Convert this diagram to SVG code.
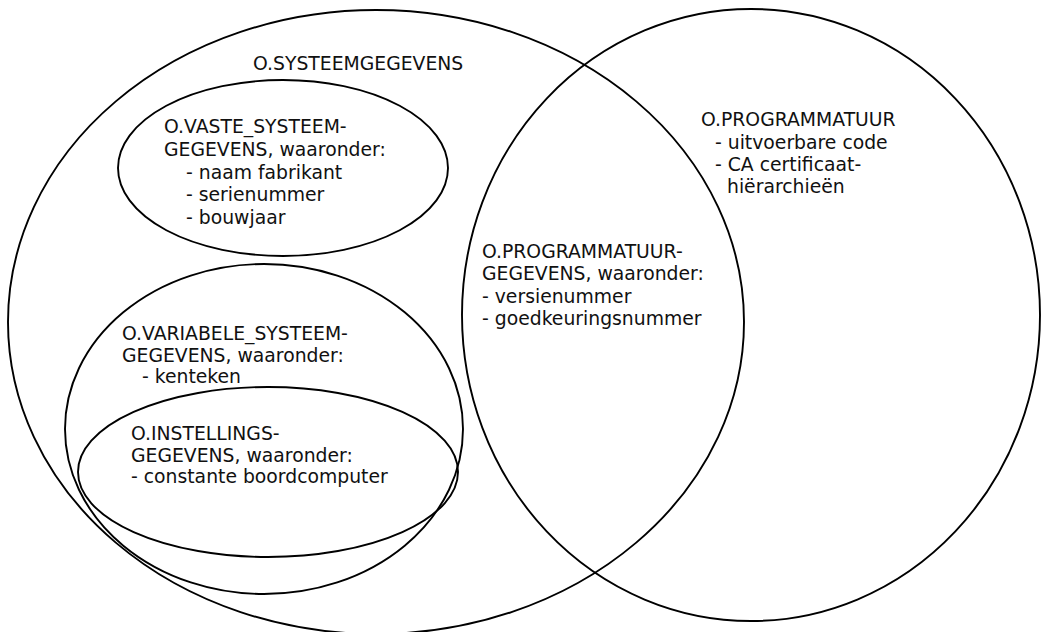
<svg xmlns="http://www.w3.org/2000/svg" width="1045" height="632" viewBox="0 0 1045 632">
  <style>
    .set { fill: none; stroke: #000; stroke-width: 1.9; }
    .lbl { font-family: "DejaVu Sans", Verdana, sans-serif; font-size: 18.8px; fill: #111; }
  </style>
  <rect x="0" y="0" width="1045" height="632" fill="#fff"/>

  <!-- outer sets -->
  <g id="systeemgegevens">
    <ellipse class="set" cx="376" cy="322" rx="368" ry="312"/>
    <text class="lbl" x="253" y="70">O.SYSTEEMGEGEVENS</text>
  </g>

  <g id="programmatuur">
    <ellipse class="set" cx="751" cy="315" rx="289" ry="306"/>
    <text class="lbl" x="701" y="126">O.PROGRAMMATUUR</text>
    <text class="lbl" x="715" y="148.5">- uitvoerbare code</text>
    <text class="lbl" x="715" y="171">- CA certificaat-</text>
    <text class="lbl" x="727" y="193">hiërarchieën</text>
  </g>

  <!-- overlap of the two outer sets -->
  <g id="programmatuurgegevens">
    <text class="lbl" x="482" y="258">O.PROGRAMMATUUR-</text>
    <text class="lbl" x="482" y="280">GEGEVENS, waaronder:</text>
    <text class="lbl" x="482" y="302.5">- versienummer</text>
    <text class="lbl" x="482" y="325">- goedkeuringsnummer</text>
  </g>

  <!-- subsets of O.SYSTEEMGEGEVENS -->
  <g id="vaste-systeemgegevens">
    <ellipse class="set" cx="283" cy="168" rx="165" ry="88"/>
    <text class="lbl" x="164" y="133">O.VASTE_SYSTEEM-</text>
    <text class="lbl" x="164" y="156">GEGEVENS, waaronder:</text>
    <text class="lbl" x="186" y="178.5">- naam fabrikant</text>
    <text class="lbl" x="186" y="201">- serienummer</text>
    <text class="lbl" x="186" y="223.5">- bouwjaar</text>
  </g>

  <g id="variabele-systeemgegevens">
    <ellipse class="set" cx="264" cy="429" rx="199" ry="165"/>
    <text class="lbl" x="122" y="340">O.VARIABELE_SYSTEEM-</text>
    <text class="lbl" x="122" y="361.5">GEGEVENS, waaronder:</text>
    <text class="lbl" x="142" y="383">- kenteken</text>
  </g>

  <g id="instellingsgegevens">
    <ellipse class="set" cx="268" cy="472" rx="190" ry="85"/>
    <text class="lbl" x="131" y="440">O.INSTELLINGS-</text>
    <text class="lbl" x="131" y="461.5">GEGEVENS, waaronder:</text>
    <text class="lbl" x="131" y="483">- constante boordcomputer</text>
  </g>

  <g id="connectors"></g>
</svg>
